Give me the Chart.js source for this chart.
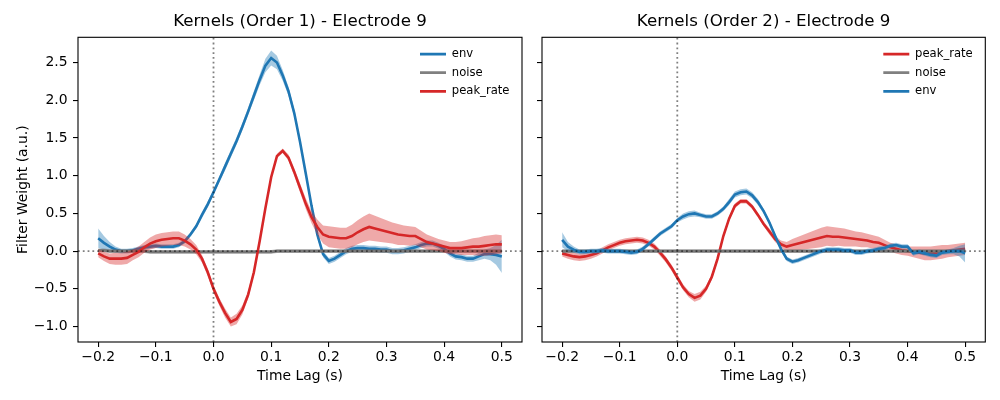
<!DOCTYPE html>
<html><head><meta charset="utf-8">
<script src="https://cdn.jsdelivr.net/npm/chart.js@4.4.0/dist/chart.umd.min.js"></script>
<style>
html,body{margin:0;padding:0;background:#fff;width:1000px;height:400px;overflow:hidden}
canvas{position:absolute;top:0}
</style></head><body>
<canvas id="c1" width="530" height="400" style="left:0px"></canvas>
<canvas id="c2" width="470" height="400" style="left:530px"></canvas>
<script>
// ---- data ----
const lags = [-0.20,-0.19,-0.18,-0.17,-0.16,-0.15,-0.14,-0.13,-0.12,-0.11,-0.10,-0.09,-0.08,-0.07,-0.06,-0.05,-0.04,-0.03,-0.02,-0.01,
  0.00,0.01,0.02,0.03,0.04,0.05,0.06,0.07,0.08,0.09,0.10,0.11,0.12,0.13,0.14,0.15,0.16,0.17,0.18,0.19,
  0.20,0.21,0.22,0.23,0.24,0.25,0.26,0.27,0.28,0.29,0.30,0.31,0.32,0.33,0.34,0.35,0.36,0.37,0.38,0.39,
  0.40,0.41,0.42,0.43,0.44,0.45,0.46,0.47,0.48,0.49,0.50];
const xTicks = [-0.2,-0.1,0.0,0.1,0.2,0.3,0.4,0.5];
const yTicks = [-1.0,-0.5,0.0,0.5,1.0,1.5,2.0,2.5];
const titles = ['Kernels (Order 1) - Electrode 9','Kernels (Order 2) - Electrode 9'];

// Order 1
const env1 = [0.17,0.11,0.06,0.02,0.00,0.00,0.01,0.03,0.05,0.06,0.07,0.06,0.06,0.06,0.08,0.13,0.22,0.33,0.48,0.62,
  0.78,0.95,1.12,1.29,1.46,1.65,1.85,2.06,2.27,2.46,2.56,2.50,2.33,2.12,1.83,1.45,1.03,0.60,0.22,-0.04,
  -0.13,-0.10,-0.05,0.00,0.03,0.04,0.04,0.03,0.03,0.02,0.02,0.00,0.00,0.01,0.03,0.05,0.08,0.10,0.10,0.07,
  0.03,-0.03,-0.07,-0.08,-0.10,-0.10,-0.07,-0.04,-0.04,-0.05,-0.07];
const env1Err = [0.13,0.09,0.06,0.04,0.03,0.03,0.03,0.03,0.03,0.03,0.03,0.03,0.03,0.03,0.03,0.03,0.03,0.03,0.04,0.04,
  0.04,0.04,0.05,0.05,0.05,0.05,0.05,0.06,0.07,0.09,0.10,0.09,0.07,0.06,0.05,0.05,0.04,0.04,0.04,0.04,
  0.04,0.04,0.04,0.04,0.04,0.04,0.04,0.04,0.04,0.04,0.04,0.04,0.04,0.04,0.04,0.04,0.04,0.04,0.04,0.04,
  0.04,0.04,0.04,0.04,0.04,0.04,0.05,0.06,0.08,0.13,0.22];
const peak1 = [-0.03,-0.07,-0.10,-0.10,-0.10,-0.09,-0.05,-0.01,0.05,0.10,0.13,0.15,0.16,0.17,0.17,0.14,0.09,0.02,-0.10,-0.28,
  -0.50,-0.67,-0.82,-0.94,-0.90,-0.78,-0.58,-0.28,0.13,0.57,0.98,1.26,1.33,1.24,1.05,0.84,0.63,0.45,0.32,0.22,
  0.19,0.18,0.17,0.17,0.20,0.25,0.29,0.32,0.30,0.28,0.26,0.24,0.22,0.21,0.20,0.20,0.16,0.12,0.10,0.08,
  0.06,0.04,0.04,0.04,0.05,0.06,0.06,0.07,0.08,0.09,0.09];
const peak1Err = [0.05,0.06,0.07,0.08,0.08,0.08,0.07,0.07,0.07,0.08,0.09,0.09,0.09,0.09,0.09,0.08,0.07,0.06,0.05,0.05,
  0.05,0.05,0.06,0.06,0.07,0.06,0.05,0.04,0.04,0.04,0.03,0.03,0.03,0.04,0.05,0.06,0.07,0.08,0.10,0.12,
  0.14,0.14,0.14,0.14,0.15,0.16,0.17,0.18,0.17,0.16,0.15,0.14,0.14,0.13,0.13,0.12,0.11,0.10,0.09,0.08,
  0.08,0.08,0.08,0.09,0.10,0.11,0.12,0.13,0.13,0.13,0.12];
const noise1 = [0.01,0.01,0.00,0.00,0.00,0.00,0.00,0.00,0.00,-0.01,-0.01,-0.01,-0.01,-0.01,-0.01,-0.01,-0.01,-0.01,-0.01,-0.01,
  -0.01,-0.01,-0.01,-0.01,-0.01,-0.01,-0.01,-0.01,-0.01,-0.01,-0.01,0.00,0.00,0.00,0.00,0.00,0.00,0.00,0.00,0.00,
  0.00,0.00,0.00,0.00,0.00,0.00,0.00,0.00,0.00,0.00,0.00,0.00,0.00,0.00,0.00,0.00,0.00,0.00,0.00,0.00,
  0.00,0.00,0.00,0.00,0.00,0.00,0.00,0.00,0.00,0.00,0.00];
const noise1Err = [0.025,0.025,0.025,0.025,0.025,0.025,0.025,0.025,0.025,0.025,0.025,0.025,0.025,0.025,0.025,0.025,0.025,0.025,0.025,0.025,
  0.025,0.025,0.025,0.025,0.025,0.025,0.025,0.025,0.025,0.025,0.025,0.025,0.025,0.025,0.025,0.025,0.025,0.025,0.025,0.025,
  0.025,0.025,0.025,0.025,0.025,0.025,0.025,0.025,0.025,0.025,0.025,0.025,0.025,0.025,0.025,0.025,0.025,0.025,0.025,0.025,
  0.025,0.025,0.025,0.025,0.025,0.025,0.025,0.025,0.025,0.025,0.025];

// Order 2
const env2 = [0.15,0.06,0.02,-0.01,-0.01,0.00,0.00,0.01,0.00,0.00,0.00,-0.01,-0.02,-0.01,0.03,0.09,0.16,0.23,0.28,0.33,
  0.41,0.46,0.49,0.50,0.48,0.46,0.46,0.50,0.56,0.65,0.75,0.78,0.79,0.74,0.65,0.53,0.38,0.20,0.03,-0.10,
  -0.14,-0.12,-0.09,-0.06,-0.03,0.00,0.02,0.02,0.02,0.01,0.01,-0.02,-0.02,0.00,0.01,0.03,0.04,0.07,0.08,0.06,
  0.06,-0.03,-0.01,-0.03,-0.05,-0.06,-0.02,-0.01,0.00,0.00,-0.03];
const env2Err = [0.10,0.06,0.04,0.03,0.03,0.03,0.03,0.03,0.03,0.03,0.03,0.03,0.03,0.03,0.03,0.03,0.03,0.03,0.03,0.03,
  0.03,0.04,0.04,0.04,0.03,0.03,0.03,0.03,0.03,0.04,0.04,0.04,0.04,0.04,0.04,0.03,0.03,0.03,0.03,0.03,
  0.03,0.03,0.03,0.03,0.03,0.03,0.03,0.03,0.03,0.03,0.03,0.03,0.03,0.03,0.03,0.03,0.03,0.03,0.03,0.03,
  0.03,0.03,0.03,0.03,0.03,0.03,0.03,0.03,0.04,0.07,0.12];
const peak2 = [-0.03,-0.05,-0.07,-0.08,-0.07,-0.05,-0.03,0.01,0.05,0.08,0.11,0.13,0.14,0.15,0.14,0.11,0.06,-0.02,-0.11,-0.22,
  -0.35,-0.48,-0.57,-0.62,-0.59,-0.50,-0.34,-0.10,0.20,0.43,0.60,0.66,0.66,0.59,0.48,0.36,0.26,0.16,0.09,0.06,
  0.08,0.10,0.12,0.14,0.16,0.18,0.20,0.19,0.19,0.18,0.17,0.16,0.15,0.14,0.12,0.11,0.08,0.05,0.03,0.01,
  0.00,-0.01,-0.02,-0.03,-0.03,-0.02,-0.01,0.00,0.01,0.02,0.03];
const peak2Err = [0.04,0.05,0.05,0.05,0.05,0.05,0.04,0.04,0.04,0.04,0.04,0.04,0.04,0.04,0.04,0.04,0.04,0.04,0.04,0.04,
  0.04,0.04,0.04,0.05,0.05,0.04,0.04,0.03,0.03,0.03,0.03,0.03,0.03,0.03,0.03,0.03,0.04,0.04,0.05,0.06,
  0.08,0.09,0.10,0.11,0.12,0.13,0.13,0.13,0.12,0.12,0.11,0.10,0.10,0.09,0.09,0.08,0.07,0.06,0.06,0.06,
  0.06,0.07,0.08,0.09,0.09,0.09,0.09,0.08,0.08,0.08,0.08];
const noise2 = [0.00,0.00,0.00,0.00,0.00,0.00,0.00,0.00,0.00,0.00,0.00,0.00,0.00,0.00,0.00,0.00,0.00,0.00,0.00,0.00,
  0.00,0.00,0.00,0.00,0.00,0.00,0.00,0.00,0.00,0.00,0.00,0.00,0.00,0.00,0.00,0.00,0.00,0.00,0.00,0.00,
  0.00,0.00,0.00,0.00,0.00,0.00,0.00,0.00,0.00,0.00,0.00,0.00,0.00,0.00,0.00,0.00,0.00,0.00,0.00,0.00,
  0.00,0.00,0.00,0.00,0.00,0.00,0.00,0.00,0.00,0.00,0.00];
const noise2Err = noise1Err;

// ---- styling ----
const FONT = 'DejaVu Sans';
Chart.defaults.font.family = FONT;
Chart.defaults.color = '#000';
const C_ENV = '#1f77b4', C_PEAK = '#d62728', C_NOISE = '#777777';
const BAND = {env:'rgba(31,119,180,0.4)', peak:'rgba(214,39,40,0.4)', noise:'rgba(100,100,100,0.45)'};
const X_MIN = -0.235, X_MAX = 0.535, Y_MIN = -1.205, Y_MAX = 2.835;

const fmt = v => (v < -1e-9 ? '\u2212' : '') + Math.abs(v).toFixed(1);
const pts = (arr, err, sign) => lags.map((x, i) => ({x, y: arr[i] + sign * (err ? err[i] : 0)}));

function seriesSets(name, label, arr, err, color, band, lineOrder, rank) {
  return [
    {label: label, data: pts(arr, null, 0), borderColor: color, backgroundColor: color, borderWidth: 2.6,
     pointRadius: 0, fill: false, tension: 0, order: lineOrder, legendRank: rank},
    {label: name + '_hi', data: pts(arr, err, 1), borderColor: 'rgba(0,0,0,0)', borderWidth: 0, pointRadius: 0,
     fill: '+1', backgroundColor: band, tension: 0, order: lineOrder + 0.5},
    {label: name + '_lo', data: pts(arr, err, -1), borderColor: 'rgba(0,0,0,0)', borderWidth: 0, pointRadius: 0,
     fill: false, tension: 0, order: lineOrder + 0.5}
  ];
}
function refSets() {
  const st = {borderColor: 'rgba(0,0,0,0.5)', borderWidth: 1.8, borderDash: [1.8, 3], pointRadius: 0, fill: false, order: 0};
  return [
    Object.assign({label: 'vline', data: [{x: 0, y: Y_MIN}, {x: 0, y: Y_MAX}]}, st),
    Object.assign({label: 'hline', data: [{x: X_MIN, y: 0}, {x: X_MAX, y: 0}]}, st)
  ];
}

const framePlugin = {
  id: 'frame',
  afterDatasetsDraw(chart) {
    const {ctx, chartArea: a} = chart;
    ctx.save(); ctx.strokeStyle = '#000'; ctx.lineWidth = 1.1;
    ctx.strokeRect(a.left, a.top, a.right - a.left, a.bottom - a.top);
    ctx.restore();
  }
};
const legendPosPlugin = {
  id: 'legendPos',
  afterLayout(chart) {
    const lg = chart.legend; if (!lg) return;
    const a = chart.chartArea;
    lg.left = a.right - 102 - 7; lg.right = lg.left + lg.width;
    lg.top = a.top + 4; lg.bottom = a.bottom;
  }
};

function makeChart(id, idx, datasets, yWidth, padRight) {
  const tickFont = {family: FONT, size: 13.9};
  return new Chart(document.getElementById(id), {
    type: 'line',
    data: {datasets},
    options: {
      responsive: false, animation: false, events: [],
      layout: {padding: {left: 0, right: padRight, top: 0, bottom: 0}},
      plugins: {
        tooltip: {enabled: false},
        title: {display: true, text: titles[idx], fullSize: false, color: '#000',
                font: {family: FONT, size: 16.67, weight: 'normal'}, padding: {top: 12, bottom: 5.3}},
        legend: {
          position: 'chartArea', align: 'start',
          labels: {
            boxWidth: 26, boxHeight: 2.8, padding: 7, color: '#000', font: {family: FONT, size: 11.6},
            generateLabels: (chart) => chart.data.datasets
              .map((ds, i) => ({ds, i}))
              .filter(o => o.ds.legendRank !== undefined)
              .sort((a, b) => a.ds.legendRank - b.ds.legendRank)
              .map(o => ({text: o.ds.label, fillStyle: o.ds.label === 'noise' ? '#808080' : o.ds.borderColor,
                          strokeStyle: o.ds.borderColor, lineWidth: 0, hidden: false, datasetIndex: o.i, fontColor: '#000'}))
          }
        }
      },
      scales: {
        x: {
          type: 'linear', min: X_MIN, max: X_MAX,
          afterBuildTicks: s => { s.ticks = xTicks.map(v => ({value: v})); },
          afterFit: s => { s.height = 58; },
          ticks: {callback: v => fmt(v), font: tickFont, color: '#000', padding: 2.5, maxRotation: 0, autoSkip: false},
          grid: {drawOnChartArea: false, drawTicks: true, tickLength: 5, color: '#000', lineWidth: 1.1},
          border: {display: false},
          title: {display: true, text: 'Time Lag (s)', font: tickFont, color: '#000', padding: {top: 0, bottom: 15}}
        },
        y: {
          type: 'linear', min: Y_MIN, max: Y_MAX,
          afterBuildTicks: s => { s.ticks = yTicks.map(v => ({value: v})); },
          afterFit: s => { s.width = yWidth; },
          ticks: {display: idx === 0, callback: v => fmt(v), font: tickFont, color: '#000', padding: 5.5},
          grid: {drawOnChartArea: false, drawTicks: true, tickLength: 5, color: '#000', lineWidth: 1.1},
          border: {display: false},
          title: {display: idx === 0, text: 'Filter Weight (a.u.)', font: tickFont, color: '#000', padding: {top: 15, bottom: 0}}
        }
      }
    },
    plugins: [framePlugin, legendPosPlugin]
  });
}

// Order 1: legend env, noise, peak_rate ; peak_rate drawn on top
const ds1 = [].concat(
  refSets(),
  seriesSets('peak', 'peak_rate', peak1, peak1Err, C_PEAK, BAND.peak, 1, 3),
  seriesSets('noise', 'noise', noise1, noise1Err, C_NOISE, BAND.noise, 3, 2),
  seriesSets('env', 'env', env1, env1Err, C_ENV, BAND.env, 5, 1)
);
// Order 2: legend peak_rate, noise, env ; env drawn on top
const ds2 = [].concat(
  refSets(),
  seriesSets('env', 'env', env2, env2Err, C_ENV, BAND.env, 1, 3),
  seriesSets('noise', 'noise', noise2, noise2Err, C_NOISE, BAND.noise, 3, 2),
  seriesSets('peak', 'peak_rate', peak2, peak2Err, C_PEAK, BAND.peak, 5, 1)
);
makeChart('c1', 0, ds1, 78, 8);
makeChart('c2', 1, ds2, 12, 14.7);
</script>
</body></html>
